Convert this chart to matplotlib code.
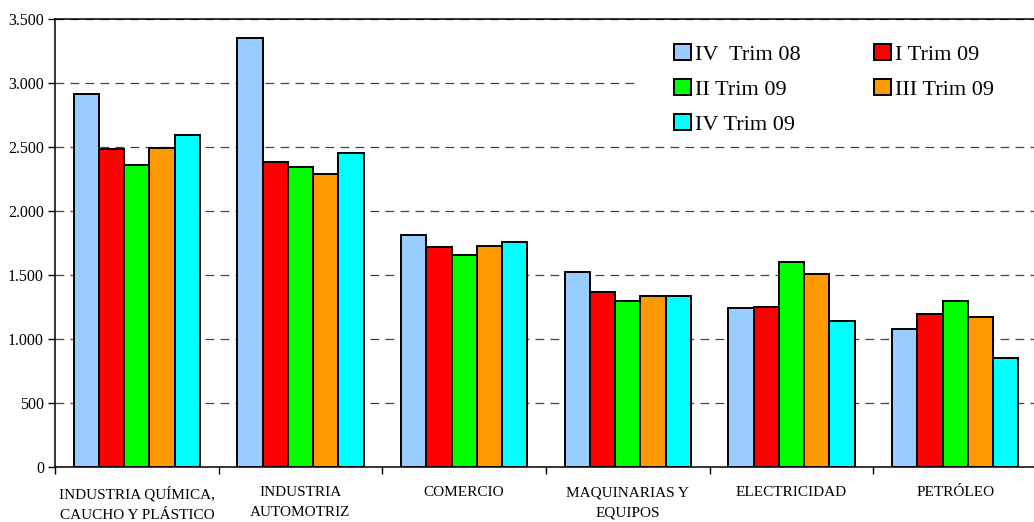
import matplotlib
matplotlib.use("Agg")
import matplotlib.pyplot as plt
from matplotlib.patches import Patch, Rectangle
from matplotlib.ticker import FuncFormatter, FixedLocator
import numpy as np

plt.rcParams['font.family'] = ['Liberation Serif', 'DejaVu Serif']

# sectors and quarterly values
sectores = ["INDUSTRIA QUÍMICA,\nCAUCHO Y PLÁSTICO", "INDUSTRIA\nAUTOMOTRIZ",
            "COMERCIO", "MAQUINARIAS Y\nEQUIPOS", "ELECTRICIDAD", "PETRÓLEO"]
trimestres = ["IV  Trim 08", "I Trim 09", "II Trim 09", "III Trim 09", "IV Trim 09"]
iv_08 = [2915, 3352, 1816, 1520, 1239, 1075]
i_09 = [2486, 2385, 1715, 1366, 1252, 1198]
ii_09 = [2356, 2346, 1660, 1296, 1603, 1296]
iii_09 = [2496, 2292, 1730, 1335, 1504, 1169]
iv_09 = [2596, 2455, 1754, 1335, 1143, 849]
colores = ["#99CCFF", "#FF0000", "#00FF00", "#FF9900", "#00FFFF"]

series = [iv_08, i_09, ii_09, iii_09, iv_09]

fig = plt.figure(figsize=(10.34, 5.22), dpi=100)
ax = fig.add_axes([55 / 1034, 1 - 467 / 522, 982 / 1034, 448 / 522])

x = np.arange(len(sectores))
w = 0.154
for i, (vals, col) in enumerate(zip(series, colores)):
    ax.bar(x + (i - 2) * w, vals, width=w, color=col, edgecolor="black",
           linewidth=1.4, zorder=3)

ax.set_xlim(-0.5, len(sectores) - 0.5)
ax.set_ylim(0, 3500)
ax.yaxis.set_major_locator(FixedLocator(np.arange(0, 3501, 500)))
ax.yaxis.set_major_formatter(FuncFormatter(lambda v, p: f"{int(v):,}".replace(",", ".")))
ax.yaxis.grid(True, linestyle=(0, (7, 5)), color="#444444", linewidth=0.9, zorder=0)
ax.set_axisbelow(True)

# category labels in the middle, ticks between groups
ax.set_xticks(x)
ax.set_xticklabels(sectores, fontsize=11, linespacing=1.7)
ax.tick_params(axis="x", which="major", length=0, pad=14)
ax.set_xticks(np.arange(-0.5, len(sectores)), minor=True)
ax.tick_params(axis="x", which="minor", length=5, width=1, direction="out")
ax.tick_params(axis="y", length=5, width=1, direction="out", labelsize=11.5, pad=3)

for s in ["left", "bottom", "top"]:
    ax.spines[s].set_linewidth(1.1)
    ax.spines[s].set_color("black")
ax.spines["right"].set_visible(False)

# white box behind the legend
ax.add_patch(Rectangle((0.5906, 0.74), 0.42, 0.24, transform=ax.transAxes,
                       facecolor="white", edgecolor="none", zorder=1))

handles = [Patch(facecolor=c, edgecolor="black", linewidth=1.4) for c in colores]
order = [0, 2, 4, 1, 3]
ax.legend([handles[k] for k in order], [trimestres[k] for k in order],
          ncol=2, loc="upper left", bbox_to_anchor=(674 / 1034, 1 - 44 / 522),
          bbox_transform=fig.transFigure, frameon=False, fontsize=16,
          handlelength=0.75, handleheight=0.75, handletextpad=0.2,
          labelspacing=0.63, columnspacing=3.3, borderpad=0, borderaxespad=0)

fig.savefig("out.png", dpi=100)
